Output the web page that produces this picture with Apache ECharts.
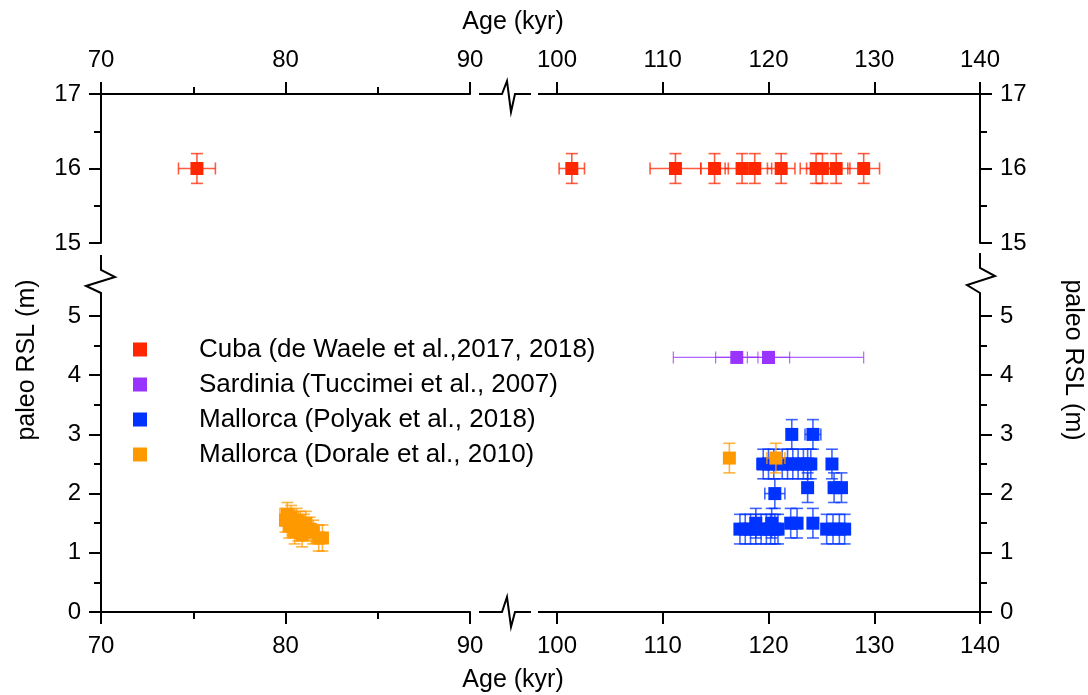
<!DOCTYPE html>
<html>
<head>
<meta charset="utf-8">
<script src="https://cdn.jsdelivr.net/npm/echarts@6/dist/echarts.min.js"></script>
<style>
html,body{margin:0;padding:0;background:#fff;}
#chart{width:1088px;height:695px;}
</style>
</head>
<body>
<div id="chart"></div>
<script>
// ---------------- DATA ----------------
const seriesNames = ['Cuba (de Waele et al.,2017, 2018)', 'Sardinia (Tuccimei et al., 2007)', 'Mallorca (Polyak et al., 2018)', 'Mallorca (Dorale et al., 2010)'];
const seriesColors = ['#FF2600', '#9933FF', '#0033FF', '#FF9900'];

const leftAgeTicks = [70, 80, 90];
const rightAgeTicks = [100, 110, 120, 130, 140];
const upperRslTicks = [15, 16, 17];
const lowerRslTicks = [0, 1, 2, 3, 4, 5];

const cubaAge    = [75.2, 101.4, 111.2, 114.9, 117.5, 118.7, 121.2, 124.5, 125.1, 126.4, 129.0];
const cubaRSL    = [16, 16, 16, 16, 16, 16, 16, 16, 16, 16, 16];
const cubaAgeErr = [1.0, 1.2, 2.4, 1.3, 1.6, 1.6, 1.3, 1.5, 1.5, 1.3, 1.5];
const cubaRSLErr = [0.2, 0.2, 0.2, 0.2, 0.2, 0.2, 0.2, 0.2, 0.2, 0.2, 0.2];

const sardAge    = [117.0, 120.0, 120.0];
const sardRSL    = [4.3, 4.3, 4.3];
const sardAgeErr = [2.0, 2.0, 9.0];
const sardRSLErr = [0, 0, 0];

const polyakAge    = [122.2, 124.2,
                      119.5, 120.0, 120.5, 121.3, 121.8, 122.3, 122.8, 123.3, 123.7, 124.0, 126.0,
                      123.7, 126.2, 126.9,
                      120.6,
                      122.1, 122.7, 124.2, 118.8, 120.3,
                      117.3, 117.8, 118.3, 118.8, 119.3, 119.8, 120.2, 120.6, 120.9,
                      125.5, 126.1, 126.7, 127.2];
const polyakRSL    = [3.0, 3.0,
                      2.5, 2.5, 2.5, 2.5, 2.5, 2.5, 2.5, 2.5, 2.5, 2.5, 2.5,
                      2.1, 2.1, 2.1,
                      2.0,
                      1.5, 1.5, 1.5, 1.5, 1.5,
                      1.4, 1.4, 1.4, 1.4, 1.4, 1.4, 1.4, 1.4, 1.4,
                      1.4, 1.4, 1.4, 1.4];
const polyakAgeErr = [0.3, 0.75,
                      0.6, 0.4, 0.4, 0.4, 0.4, 0.4, 0.4, 0.4, 0.4, 0.5, 0.4,
                      0.4, 0.4, 0.4,
                      0.95,
                      0.4, 0.4, 0.3, 0.4, 0.4,
                      0.5, 0.4, 0.4, 0.4, 0.4, 0.4, 0.4, 0.4, 0.5,
                      0.4, 0.4, 0.4, 0.4];
const polyakRSLErr = [0.25, 0.25,
                      0.25, 0.25, 0.25, 0.25, 0.25, 0.25, 0.25, 0.25, 0.25, 0.25, 0.25,
                      0.25, 0.25, 0.25,
                      0.25,
                      0.25, 0.25, 0.25, 0.25, 0.25,
                      0.25, 0.25, 0.25, 0.25, 0.25, 0.25, 0.25, 0.25, 0.25,
                      0.25, 0.25, 0.25, 0.25];

const doraleAge    = [80.0, 80.1, 80.2, 80.3, 80.4, 80.5, 80.6, 80.7, 80.8, 80.9, 81.0, 81.1, 81.3, 81.5, 81.8, 82.0, 116.3, 120.7];
const doraleRSL    = [1.55, 1.65, 1.45, 1.6, 1.5, 1.35, 1.55, 1.4, 1.5, 1.3, 1.45, 1.5, 1.4, 1.35, 1.25, 1.25, 2.6, 2.6];
const doraleAgeErr = [0.3, 0.4, 0.3, 0.4, 0.3, 0.4, 0.4, 0.3, 0.4, 0.3, 0.4, 0.3, 0.4, 0.3, 0.4, 0.3, 0.3, 0.85];
const doraleRSLErr = [0.2, 0.2, 0.2, 0.2, 0.2, 0.2, 0.2, 0.2, 0.2, 0.2, 0.2, 0.2, 0.2, 0.2, 0.22, 0.22, 0.25, 0.25];

// ---------------- CHART ----------------
const FONT = 'Liberation Sans, Arial, Helvetica, sans-serif';
const datasets = [
  [cubaAge, cubaRSL, cubaAgeErr, cubaRSLErr],
  [sardAge, sardRSL, sardAgeErr, sardRSLErr],
  [polyakAge, polyakRSL, polyakAgeErr, polyakRSLErr],
  [doraleAge, doraleRSL, doraleAgeErr, doraleRSLErr]
];
// panels: 0 top-left, 1 top-right, 2 bottom-left, 3 bottom-right
const panels = [
  {xr: [70, 90], yr: [15, 17]},
  {xr: [100, 140], yr: [15, 17]},
  {xr: [70, 90], yr: [0, 5]},
  {xr: [100, 140], yr: [0, 5]}
];

const grids = [
  {left: 101, top: 94, width: 369, height: 149},
  {left: 557, top: 94, width: 423, height: 149},
  {left: 101, top: 316, width: 369, height: 296},
  {left: 557, top: 316, width: 423, height: 296}
];

const axisLineStyle = {color: '#000', width: 2};
const labelStyle = {color: '#000', fontSize: 24, fontFamily: FONT};

function xAxisFor(i) {
  const isLeft = (i % 2 === 0);
  const isTop = i < 2;
  const ticks = isLeft ? leftAgeTicks : rightAgeTicks;
  return {
    type: 'value', gridIndex: i, position: isTop ? 'top' : 'bottom',
    min: ticks[0], max: ticks[ticks.length - 1], interval: 10,
    axisLine: {show: true, onZero: false, lineStyle: axisLineStyle},
    axisTick: {show: true, inside: false, length: 12, lineStyle: {color: '#000', width: 2}},
    minorTick: {show: isLeft, splitNumber: 2, length: 7, lineStyle: {color: '#000', width: 2}},
    axisLabel: Object.assign({margin: 22}, labelStyle),
    splitLine: {show: false}, minorSplitLine: {show: false}
  };
}
function yAxisFor(i) {
  const isLeft = (i % 2 === 0);
  const isTop = i < 2;
  const ticks = isTop ? upperRslTicks : lowerRslTicks;
  return {
    type: 'value', gridIndex: i, position: isLeft ? 'left' : 'right',
    min: ticks[0], max: ticks[ticks.length - 1], interval: 1,
    axisLine: {show: true, onZero: false, lineStyle: axisLineStyle},
    axisTick: {show: true, inside: false, length: 12, lineStyle: {color: '#000', width: 2}},
    minorTick: {show: true, splitNumber: 2, length: 7, lineStyle: {color: '#000', width: 2}},
    axisLabel: Object.assign({margin: 20}, labelStyle),
    splitLine: {show: false}, minorSplitLine: {show: false}
  };
}

function errRender(color, lw) {
  return function (params, api) {
    const x = api.value(0), y = api.value(1), ex = api.value(2), ey = api.value(3);
    const children = [];
    const st = {stroke: color, lineWidth: lw, opacity: 0.75};
    const cap = 6;
    if (ex > 0) {
      const l = api.coord([x - ex, y]), r = api.coord([x + ex, y]);
      children.push({type: 'line', shape: {x1: l[0], y1: l[1], x2: r[0], y2: r[1]}, style: st});
      children.push({type: 'line', shape: {x1: l[0], y1: l[1] - cap, x2: l[0], y2: l[1] + cap}, style: st});
      children.push({type: 'line', shape: {x1: r[0], y1: r[1] - cap, x2: r[0], y2: r[1] + cap}, style: st});
    }
    if (ey > 0) {
      const b = api.coord([x, y - ey]), t = api.coord([x, y + ey]);
      children.push({type: 'line', shape: {x1: b[0], y1: b[1], x2: t[0], y2: t[1]}, style: st});
      children.push({type: 'line', shape: {x1: b[0] - cap, y1: b[1], x2: b[0] + cap, y2: b[1]}, style: st});
      children.push({type: 'line', shape: {x1: t[0] - cap, y1: t[1], x2: t[0] + cap, y2: t[1]}, style: st});
    }
    return {type: 'group', children: children};
  };
}

const series = [];
datasets.forEach(function (ds, k) {
  const [ages, rsls, aErr, rErr] = ds;
  panels.forEach(function (p, gi) {
    const pts = [];
    for (let j = 0; j < ages.length; j++) {
      if (ages[j] >= p.xr[0] && ages[j] <= p.xr[1] && rsls[j] >= p.yr[0] && rsls[j] <= p.yr[1]) {
        pts.push([ages[j], rsls[j], aErr[j], rErr[j]]);
      }
    }
    if (!pts.length) return;
    series.push({
      type: 'custom', name: 'err' + k, xAxisIndex: gi, yAxisIndex: gi,
      renderItem: errRender(seriesColors[k], k === 1 ? 1.2 : 1.6),
      encode: {x: 0, y: 1}, data: pts, z: 2 + k * 2, clip: false, silent: true
    });
    series.push({
      type: 'scatter', name: seriesNames[k], xAxisIndex: gi, yAxisIndex: gi,
      symbol: 'rect', symbolSize: 13, itemStyle: {color: seriesColors[k], opacity: 1},
      data: pts.map(function (q) { return [q[0], q[1]]; }), z: 3 + k * 2, silent: true
    });
  });
});

const blk = {stroke: '#000', lineWidth: 2, fill: null};
const option = {
  backgroundColor: '#fff',
  animation: false,
  grid: grids,
  xAxis: [0, 1, 2, 3].map(xAxisFor),
  yAxis: [0, 1, 2, 3].map(yAxisFor),
  legend: {
    data: seriesNames.map(function (n) { return {name: n, icon: 'rect'}; }),
    orient: 'vertical', left: 128, top: 327,
    itemWidth: 14, itemHeight: 14, itemGap: 0,
    selectedMode: false,
    textStyle: {color: '#000', fontSize: 26, fontFamily: FONT, lineHeight: 35, padding: [0, 0, 0, 47]}
  },
  graphic: [
    {type: 'text', x: 513, y: 22, style: {text: 'Age (kyr)', font: '25px ' + FONT, fill: '#000', textAlign: 'center', textVerticalAlign: 'middle'}},
    {type: 'text', x: 513, y: 680, style: {text: 'Age (kyr)', font: '25px ' + FONT, fill: '#000', textAlign: 'center', textVerticalAlign: 'middle'}},
    {type: 'text', x: 27, y: 360, rotation: Math.PI / 2, style: {text: 'paleo RSL (m)', font: '25px ' + FONT, fill: '#000', textAlign: 'center', textVerticalAlign: 'middle'}},
    {type: 'text', x: 1073, y: 360, rotation: -Math.PI / 2, style: {text: 'paleo RSL (m)', font: '25px ' + FONT, fill: '#000', textAlign: 'center', textVerticalAlign: 'middle'}},
    // horizontal axis breaks
    {type: 'polyline', shape: {points: [[479, 94], [502, 94], [507, 81], [511, 112], [515, 94], [531, 94]]}, style: blk},
    {type: 'polyline', shape: {points: [[538, 94], [557, 94]]}, style: blk},
    {type: 'polyline', shape: {points: [[479, 612], [502, 612], [507, 597], [511, 627], [515, 612], [531, 612]]}, style: blk},
    {type: 'polyline', shape: {points: [[538, 612], [557, 612]]}, style: blk},
    // vertical axis breaks
    {type: 'polyline', shape: {points: [[101, 255], [101, 270], [115, 277], [86, 286], [101, 293], [101, 316]]}, style: blk},
    {type: 'polyline', shape: {points: [[980, 253], [980, 268], [995, 276], [967, 285], [980, 293], [980, 316]]}, style: blk}
  ],
  series: series
};

const chart = echarts.init(document.getElementById('chart'), null, {renderer: 'canvas'});
chart.setOption(option);
</script>
</body>
</html>
